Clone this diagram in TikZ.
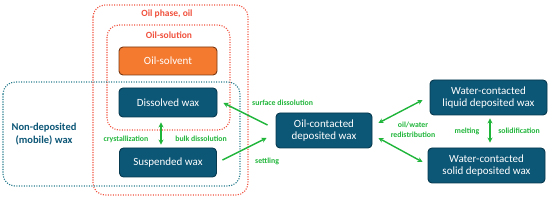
\documentclass[tikz,border=0pt]{standalone}
\usepackage{fontspec}
\setmainfont{Carlito}
\usetikzlibrary{arrows.meta,calc}
\definecolor{boxteal}{HTML}{0C5676}
\definecolor{boxedge}{HTML}{07394F}
\definecolor{solv}{HTML}{F47A30}
\definecolor{solvedge}{HTML}{7A3812}
\definecolor{grn}{HTML}{1FB53A}
\definecolor{redd}{HTML}{F0503C}
\definecolor{tealdot}{HTML}{23798A}
\begin{document}
\begin{tikzpicture}[x=1pt,y=-1pt,
  wbox/.style={draw=boxedge,fill=boxteal,line width=0.9pt,rounded corners=4pt,text=white,font=\fontsize{11}{12.5}\selectfont,align=center,inner sep=0pt},
  sbox/.style={draw=solvedge,fill=solv,line width=0.9pt,rounded corners=4pt,text=white,font=\fontsize{11}{12.5}\selectfont,inner sep=0pt},
  reddot/.style={draw=redd,line width=1.1pt,dash pattern=on 1.1pt off 1.4pt,rounded corners=12pt},
  tealdotbox/.style={draw=tealdot,line width=1.1pt,dash pattern=on 1.1pt off 1.4pt,rounded corners=12pt},
  arr/.style={draw=grn,line width=1.4pt,-{Stealth[length=5pt,width=5pt]}},
  darr/.style={draw=grn,line width=1.4pt,{Stealth[length=5pt,width=5pt]}-{Stealth[length=5pt,width=5pt]}},
  glab/.style={text=grn,font=\fontsize{7.8}{9.5}\selectfont\bfseries,inner sep=0pt,align=center},
  rlab/.style={text=redd,font=\fontsize{9.5}{11}\selectfont\bfseries,inner sep=0pt}
]
\useasboundingbox (0,0) rectangle (550,200);
% dotted containers
\draw[reddot] (93,5) rectangle (248,195);
\draw[reddot] (107,25) rectangle (230,130);
\draw[tealdotbox] (3,82) rectangle (240,186);
\node[rlab] (lphase) at (167,14) {Oil phase, oil};
\node[rlab] (lsol) at (169,35) {Oil-solution};
\node[text=boxteal,font=\fontsize{10.5}{13}\selectfont\bfseries,align=center,inner sep=0pt] (lnon) at (44,134) {Non-deposited\\(mobile) wax};
% boxes
\node[sbox,minimum width=98pt,minimum height=28pt] (solvent) at (168,61) {Oil-solvent};
\node[wbox,minimum width=98pt,minimum height=29pt] (dissolved) at (168,102.5) {Dissolved wax};
\node[wbox,minimum width=97pt,minimum height=29pt] (suspended) at (168,162.5) {Suspended wax};
\node[wbox,minimum width=96pt,minimum height=35pt] (oilcont) at (324,130.5) {Oil-contacted\\deposited wax};
\node[wbox,minimum width=117pt,minimum height=35pt] (wliq) at (488.5,97.5) {Water-contacted\\liquid deposited wax};
\node[wbox,minimum width=117pt,minimum height=35pt] (wsol) at (486.5,165.5) {Water-contacted\\solid deposited wax};
% arrows
\draw[arr] ($(oilcont.west)+(-8,-5.5)$) -- ($(dissolved.east)+(6,0.5)$);
\draw[arr] ($(suspended.east)+(5.5,-2.5)$) -- ($(oilcont.west)+(-9,7.5)$);
\draw[darr] ($(oilcont.east)+(6,-7.5)$) -- ($(wliq.west)+(-7,2.5)$);
\draw[darr] ($(oilcont.east)+(6,7.5)$) -- ($(wsol.west)+(-5,-3.5)$);
\draw[darr] ($(dissolved.south)+(-7,5)$) -- ($(suspended.north)+(-7,-3)$);
\draw[darr] ($(wliq.south)+(1.5,3)$) -- ($(wsol.north)+(3.5,-5)$);
% labels
\node[glab,anchor=west] (lsurf) at (252,103) {surface dissolution};
\node[glab,anchor=west] (lsett) at (255,161) {settling};
\node[glab] (lcry) at (126,139) {crystallization};
\node[glab] (lbulk) at (201,139) {bulk dissolution};
\node[glab] (lredis) at (413,130) {oil/water\\redistribution};
\node[glab] (lmelt) at (467,131) {melting};
\node[glab] (lsolid) at (519,131) {solidification};
\end{tikzpicture}
\end{document}
